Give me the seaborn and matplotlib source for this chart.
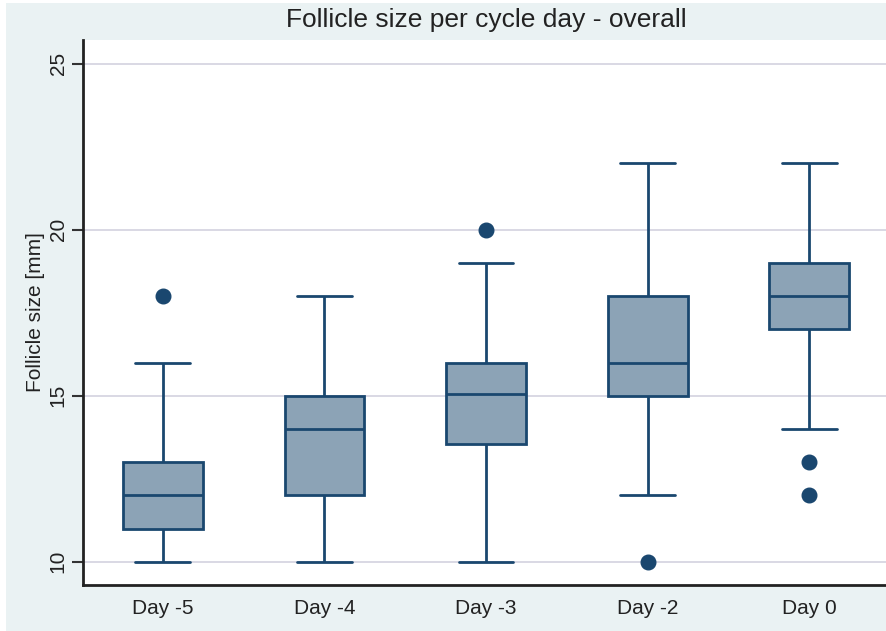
import numpy as np
import pandas as pd
import seaborn as sns
import matplotlib
matplotlib.use("Agg")
import matplotlib.pyplot as plt
from matplotlib.patches import Rectangle

# ---- data ----
days = ["Day -5", "Day -4", "Day -3", "Day -2", "Day 0"]
day_m5 = [10, 11, 11, 12, 12, 13, 13, 16, 18]
day_m4 = [10, 11, 12, 13, 14, 15, 15, 17, 18]
day_m3 = [10, 12, 13.55, 14, 15.05, 15.5, 16, 19, 20]
day_m2 = [10, 12, 15, 15, 16, 17, 18, 20, 22]
day_0 = [12, 13, 14, 17, 17, 18, 18, 18, 19, 19, 20, 21, 22]
y_ticks = [10, 15, 20, 25]

groups = [day_m5, day_m4, day_m3, day_m2, day_0]
df = pd.DataFrame({
    "day": np.concatenate([[d] * len(g) for d, g in zip(days, groups)]),
    "size": np.concatenate(groups),
})

# ---- style ----
bg = "#EAF2F3"
fill = "#8CA3B6"
edge = "#1A476F"
grid_c = "#D7D6E2"

sns.set_theme(style="white")
plt.rcParams["font.family"] = ["Liberation Sans", "DejaVu Sans"]

W, H = 886, 631
fig = plt.figure(figsize=(W / 100, H / 100), dpi=100)
fig.patch.set_facecolor("white")
fig.patches.append(Rectangle((6 / W, 0), 1 - 6 / W, 1 - 3 / H,
                             transform=fig.transFigure, facecolor=bg,
                             edgecolor="none", zorder=-10))

left, right, top, bottom = 83, 889, 40, 585
ax = fig.add_axes([left / W, 1 - bottom / H, (right - left) / W, (bottom - top) / H])
ax.set_facecolor("white")

sns.boxplot(data=df, x="day", y="size", order=days, ax=ax,
            width=0.495, color=fill, saturation=1, linecolor=edge,
            linewidth=2, capwidths=0.34,
            flierprops=dict(marker="o", markerfacecolor=edge,
                            markeredgecolor=edge, markersize=10.5))

ax.set_xlim(-0.495, 4.495)
ax.set_ylim(9.3, 25.72)
ax.set_yticks(y_ticks)
ax.set_yticklabels([str(t) for t in y_ticks])
plt.setp(ax.get_yticklabels(), rotation=90, va="center")
ax.yaxis.grid(True, color=grid_c, lw=1.3)
ax.xaxis.grid(False)
ax.set_axisbelow(True)

for s in ["top", "right"]:
    ax.spines[s].set_visible(False)
for s in ["left", "bottom"]:
    ax.spines[s].set_color("#222222")
    ax.spines[s].set_linewidth(2)

ax.tick_params(axis="y", length=8, width=1.5, color="#333333",
               labelsize=15, labelcolor="#222222", pad=3, left=True)
ax.tick_params(axis="x", length=0, labelsize=15, labelcolor="#222222", pad=10)

ax.set_xlabel("")
ax.set_ylabel("Follicle size [mm]", fontsize=15, color="#222222", labelpad=3)
ax.set_title("Follicle size per cycle day - overall", fontsize=19,
             color="#222222", pad=9)

fig.savefig("out.png", dpi=100, facecolor=fig.get_facecolor())
